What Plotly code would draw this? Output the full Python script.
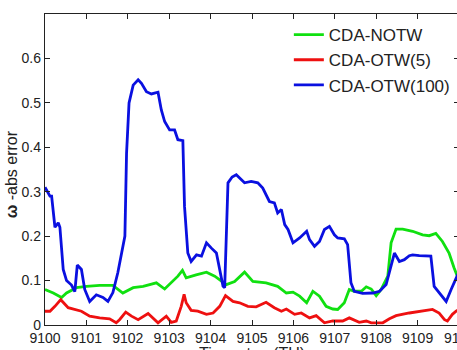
import plotly.graph_objects as go

# ---- data ----
notw_t = [9100.00, 9100.20, 9100.40, 9100.52, 9100.76, 9101.00, 9101.32, 9101.64, 9101.88, 9102.13,
          9102.37, 9102.69, 9102.89, 9103.05, 9103.21, 9103.32, 9103.41, 9103.65, 9103.90, 9104.10,
          9104.30, 9104.38, 9104.58, 9104.82, 9105.02, 9105.34, 9105.62, 9105.83, 9105.99, 9106.15,
          9106.32, 9106.47, 9106.63, 9106.79, 9106.95, 9107.07, 9107.23, 9107.35, 9107.47, 9107.64,
          9107.76, 9107.88, 9108.00, 9108.12, 9108.28, 9108.36, 9108.48, 9108.64, 9108.88, 9109.12,
          9109.28, 9109.44, 9109.60, 9109.76, 9109.88, 9110.00]
notw_v = [0.080, 0.072, 0.062, 0.072, 0.084, 0.087, 0.089, 0.089, 0.072, 0.084,
          0.087, 0.095, 0.081, 0.095, 0.110, 0.123, 0.106, 0.113, 0.119, 0.110,
          0.096, 0.091, 0.098, 0.119, 0.098, 0.095, 0.087, 0.072, 0.074, 0.065,
          0.050, 0.076, 0.065, 0.042, 0.036, 0.035, 0.050, 0.080, 0.076, 0.076,
          0.086, 0.081, 0.066, 0.080, 0.110, 0.185, 0.216, 0.216, 0.211, 0.203,
          0.201, 0.206, 0.188, 0.162, 0.129, 0.100]

otw5_t = [9100.00, 9100.12, 9100.24, 9100.38, 9100.56, 9100.72, 9100.88, 9101.08, 9101.32, 9101.56,
          9101.72, 9101.80, 9101.95, 9102.09, 9102.25, 9102.49, 9102.73, 9102.93, 9103.05, 9103.17,
          9103.29, 9103.36, 9103.41, 9103.53, 9103.69, 9103.90, 9104.06, 9104.22, 9104.36, 9104.54,
          9104.70, 9104.90, 9105.10, 9105.34, 9105.54, 9105.71, 9105.83, 9106.03, 9106.19, 9106.39,
          9106.55, 9106.75, 9106.95, 9107.19, 9107.35, 9107.59, 9107.76, 9107.88, 9108.16, 9108.32,
          9108.48, 9108.80, 9109.12, 9109.36, 9109.52, 9109.65, 9109.72, 9109.84, 9109.93, 9110.00]
otw5_v = [0.031, 0.031, 0.042, 0.057, 0.039, 0.035, 0.031, 0.020, 0.016, 0.014,
          0.005, 0.012, 0.029, 0.020, 0.012, 0.026, 0.005, 0.020, 0.006, 0.009,
          0.042, 0.069, 0.050, 0.033, 0.031, 0.024, 0.027, 0.042, 0.066, 0.053,
          0.050, 0.042, 0.041, 0.051, 0.039, 0.031, 0.036, 0.024, 0.027, 0.016,
          0.021, 0.005, 0.009, 0.009, 0.016, 0.006, 0.009, 0.005, 0.005, 0.014,
          0.021, 0.027, 0.031, 0.035, 0.027, 0.012, 0.009, 0.024, 0.031, 0.035]

otw100_t = [9100.00, 9100.12, 9100.16, 9100.24, 9100.32, 9100.36, 9100.44, 9100.52, 9100.64, 9100.72,
            9100.78, 9100.88, 9100.96, 9101.08, 9101.24, 9101.40, 9101.52, 9101.64, 9101.76, 9101.88,
            9101.93, 9101.97, 9102.03, 9102.13, 9102.25, 9102.33, 9102.45, 9102.57, 9102.69, 9102.73,
            9102.81, 9102.89, 9103.01, 9103.13, 9103.21, 9103.33, 9103.37, 9103.45, 9103.53, 9103.66,
            9103.78, 9103.90, 9104.02, 9104.14, 9104.30, 9104.34, 9104.42, 9104.52, 9104.62, 9104.82,
            9104.98, 9105.14, 9105.26, 9105.42, 9105.54, 9105.62, 9105.71, 9105.79, 9105.87, 9105.99,
            9106.15, 9106.32, 9106.39, 9106.51, 9106.63, 9106.75, 9106.87, 9106.99, 9107.07, 9107.23,
            9107.31, 9107.39, 9107.47, 9107.67, 9107.92, 9108.08, 9108.24, 9108.36, 9108.44, 9108.56,
            9108.68, 9108.80, 9108.88, 9109.04, 9109.20, 9109.32, 9109.40, 9109.53, 9109.69, 9109.81,
            9109.93, 9110.00]
otw100_v = [0.310, 0.290, 0.290, 0.220, 0.230, 0.220, 0.125, 0.100, 0.090, 0.075,
            0.135, 0.125, 0.080, 0.053, 0.068, 0.062, 0.053, 0.073, 0.118, 0.177,
            0.200, 0.387, 0.500, 0.540, 0.552, 0.544, 0.525, 0.520, 0.522, 0.524,
            0.484, 0.458, 0.439, 0.439, 0.417, 0.415, 0.267, 0.162, 0.143, 0.158,
            0.155, 0.185, 0.173, 0.162, 0.087, 0.084, 0.320, 0.333, 0.338, 0.320,
            0.323, 0.320, 0.308, 0.278, 0.275, 0.252, 0.260, 0.226, 0.215, 0.185,
            0.196, 0.211, 0.192, 0.177, 0.188, 0.215, 0.222, 0.203, 0.196, 0.194,
            0.181, 0.095, 0.076, 0.071, 0.072, 0.076, 0.091, 0.132, 0.162, 0.143,
            0.147, 0.156, 0.158, 0.156, 0.156, 0.155, 0.087, 0.072, 0.053, 0.080,
            0.106, 0.120]

series_names = ["CDA-NOTW", "CDA-OTW(5)", "CDA-OTW(100)"]
series_colors = ["#10e010", "#ee1010", "#0a10e0"]
x_ticks = list(range(9100, 9111))
y_ticks = [0, 0.1, 0.2, 0.3, 0.4, 0.5, 0.6]
y_tick_text = ["0", "0.1", "0.2", "0.3", "0.4", "0.5", "0.6"]

FONT = "Liberation Sans, Arial, Helvetica, sans-serif"

fig = go.Figure()
for (tt, vv), name, col in zip([(notw_t, notw_v), (otw5_t, otw5_v), (otw100_t, otw100_v)],
                               series_names, series_colors):
    fig.add_trace(go.Scatter(x=tt, y=vv, mode="lines", name=name,
                             line=dict(color=col, width=2.8)))

axis_common = dict(showline=True, linecolor="#222", linewidth=1.3, mirror="ticks",
                   ticks="inside", ticklen=5, tickcolor="#222", showgrid=False,
                   zeroline=False, tickfont=dict(family=FONT, size=14, color="#222"))

fig.update_layout(
    width=500, height=370,
    margin=dict(l=45, r=41, t=14, b=45),
    paper_bgcolor="white", plot_bgcolor="white",
    font=dict(family=FONT, color="#222"),
    xaxis=dict(range=[9100, 9110], tickvals=x_ticks, ticktext=[str(v) for v in x_ticks],
               ticklabeloverflow="allow", **axis_common),
    yaxis=dict(range=[0, 0.7], tickvals=y_ticks, ticktext=y_tick_text, **axis_common),
    legend=dict(x=0.589, y=0.99, xanchor="left", yanchor="top", bgcolor="rgba(0,0,0,0)",
                font=dict(family=FONT, size=17, color="#222"), tracegroupgap=0),
    showlegend=True,
)

fig.add_annotation(text="<b>ω</b> -abs error", xref="paper", yref="paper",
                   x=-0.082, y=0.485, xanchor="center", yanchor="middle", textangle=-90,
                   showarrow=False, font=dict(family=FONT, size=16, color="#222"))
fig.add_annotation(text="Time step (TU)", xref="paper", yref="paper",
                   x=0.5, y=-0.058, xanchor="center", yanchor="top",
                   showarrow=False, font=dict(family=FONT, size=16, color="#222"))

fig.write_html("out.html",
               post_script="document.body.style.margin='0';document.body.style.overflow='hidden';document.documentElement.style.overflow='hidden';")
